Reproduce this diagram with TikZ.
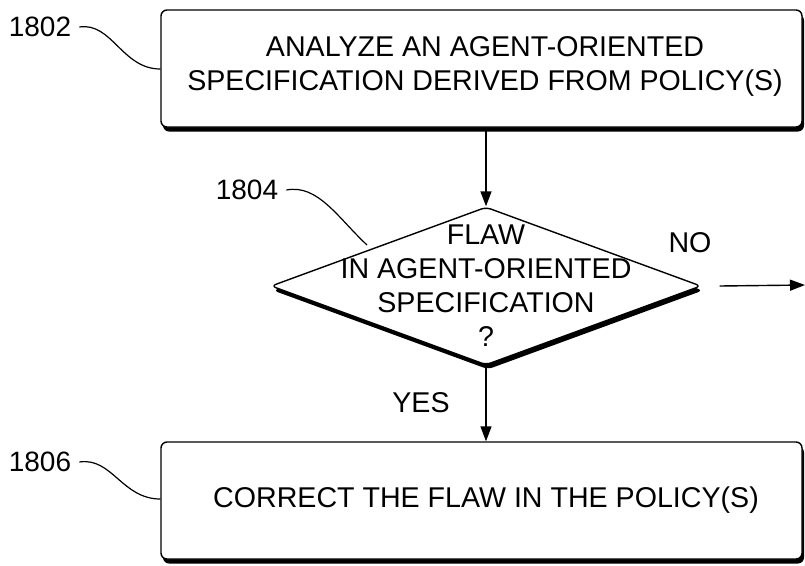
\documentclass[tikz,border=0pt]{standalone}
\usepackage{fontspec}
\setmainfont{Liberation Sans}
\usetikzlibrary{shapes.geometric,arrows.meta,shadows}
\begin{document}
\begin{tikzpicture}[x=1pt,y=1pt,
  txt/.style={font=\fontsize{28.6}{34}\selectfont, align=center, inner sep=0pt},
  reftxt/.style={font=\fontsize{28}{34}\selectfont, inner sep=0pt},
  stepbox/.style={draw, line width=1.4pt, fill=white, rounded corners=6pt,
    minimum width=641pt, minimum height=117pt, inner sep=0pt,
    drop shadow={shadow xshift=2pt, shadow yshift=-4.5pt, fill=black, opacity=1}},
  decide/.style={draw, shape=diamond, line width=1.4pt, fill=white, rounded corners=5pt,
    minimum width=430pt, minimum height=158pt, inner sep=0pt,
    drop shadow={shadow xshift=2pt, shadow yshift=-4.5pt, fill=black, opacity=1}},
  flow/.style={line width=1.4pt, -{Triangle[length=15pt,width=11pt]}},
  lead/.style={line width=1.2pt}
]
\useasboundingbox (0,0) rectangle (805,-565);

\node[stepbox] (b1) at (481.5,-68.5) {};
\node[txt] (t1) at (485,-66) {ANALYZE AN AGENT-ORIENTED\\SPECIFICATION DERIVED FROM POLICY(S)};

\node[decide] (d) at (486,-286) {};
\node[txt] (t2) at (486,-286) {FLAW\\IN AGENT-ORIENTED\\SPECIFICATION\\?};

\node[stepbox] (b2) at (481.5,-500.5) {};
\node[txt] (t3) at (486,-500) {CORRECT THE FLAW IN THE POLICY(S)};

\draw[flow] (d.north |- b1.south) -- (d.north);
\draw[flow] (d.south) -- (d.south |- b2.north);

\coordinate (nostart) at ([xshift=18pt]d.east);
\coordinate (noend) at (805,-285);
\draw[flow] (nostart) -- (noend);

\node[txt] (yes) at (421,-403) {YES};
\node[txt] (no) at (690,-243) {NO};

\node[reftxt] (r1) at (40,-27) {1802};
\node[reftxt] (r2) at (247,-190) {1804};
\node[reftxt] (r3) at (40,-462) {1806};

\coordinate (r1e) at (b1.west |- 0,-69);
\coordinate (r3e) at (b2.west |- 0,-499);
\coordinate (r2e) at (367,-245);
\draw[lead] ([xshift=8pt]r1.east) .. controls (112,-22) and (122,-69) .. (r1e);
\draw[lead] ([xshift=8pt]r3.east) .. controls (112,-457) and (122,-499) .. (r3e);
\draw[lead] ([xshift=8pt]r2.east) .. controls (318,-184) and (338,-218) .. (r2e);
\end{tikzpicture}
\end{document}
